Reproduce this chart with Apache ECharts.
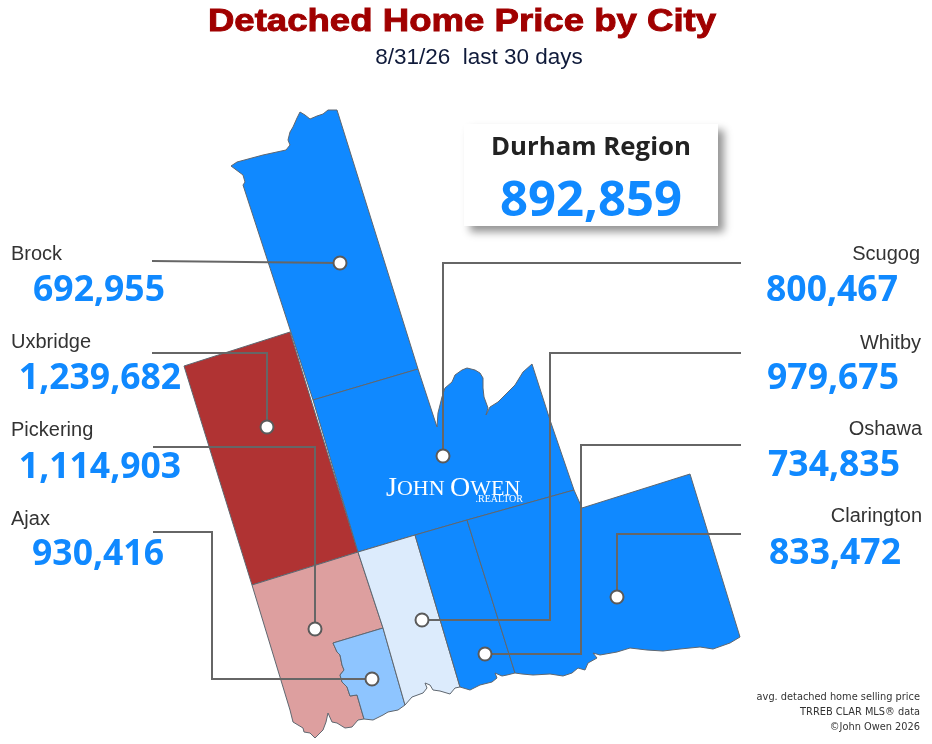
<!DOCTYPE html>
<html>
<head>
<meta charset="utf-8">
<style>html,body{margin:0;padding:0;background:#fff}#main{width:932px;height:744px}</style>
<script src="https://cdn.jsdelivr.net/npm/echarts@6/dist/echarts.min.js"></script>
</head>
<body>
<div id="main"></div>
<script>
// 数据
const cities = ["Brock", "Uxbridge", "Pickering", "Ajax", "Scugog", "Whitby", "Oshawa", "Clarington"];
const prices = [692955, 1239682, 1114903, 930416, 800467, 979675, 734835, 833472];
const regionName = "Durham Region";
const regionPrice = 892859;
const footnotes = ["avg. detached home selling price", "TRREB CLAR MLS\u00ae data", "\u00a9John Owen 2026"];

// 地图边界（图片像素坐标）
const ajaxWest = [[333,643],[337,652],[340,655],[342,665],[344,670],[340,675],[342,682],[347,687],[350,696],[357,695],[364,719]];
const brockShape = [[337,110],[328,110],[323,114],[317,116],[310,119],[305,115],[300,112],[297,118],[293,127],[290,132],[288,140],[290,145],[286,150],[263,155],[237,162],[231,166],[235,169],[243,175],[245,182],[243,185],[313,400],[418,369]];
const uxbridgeShape = [[290,332],[184,366],[252,585],[358,552]];
const scugogShape = [[313,400],[418,369],[437,427],[438,413],[442,397],[445,388],[452,382],[455,375],[462,370],[467,368],[475,370],[480,373],[483,378],[483,388],[484,397],[488,408],[486,415],[490,407],[498,402],[507,393],[515,385],[523,372],[532,364],[550,420],[574,490],[467,520],[415,535],[358,552]];
const pickeringShape = [[252,585],[358,552],[383,628]].concat(ajaxWest, [[358,720],[352,727],[345,728],[337,723],[332,722],[328,713],[326,722],[323,730],[315,738],[310,733],[304,732],[303,728],[293,722],[290,710]]);
const ajaxShape = [[383,628]].concat(ajaxWest, [[373,720],[383,715],[388,712],[398,710],[405,705]]);
const whitbyShape = [[358,552],[415,535],[460,687],[455,688],[450,694],[440,691],[433,690],[430,685],[425,683],[427,688],[423,693],[412,697],[405,705],[383,628]];
const oshawaShape = [[415,535],[467,520],[515,673],[507,675],[502,676],[495,673],[497,678],[492,682],[480,685],[470,690],[460,687]];
const claringtonShape = [[467,520],[574,490],[582,508],[690,474],[740,637],[730,643],[713,649],[700,647],[680,649],[663,651],[647,650],[630,648],[617,652],[600,655],[593,653],[597,658],[588,663],[585,670],[578,668],[572,673],[563,676],[550,674],[533,675],[522,674],[515,673]];
const shapes = [brockShape, uxbridgeShape, pickeringShape, ajaxShape, scugogShape, whitbyShape, oshawaShape, claringtonShape];

// 引线（同样是图片像素坐标），最后一个点是白色圆点
const leaders = [
  [[152,261],[340,263]],
  [[152,353],[267,353],[267,427]],
  [[153,447],[315,447],[315,629]],
  [[153,532],[212,532],[212,679],[372,679]],
  [[741,263],[443,263],[443,456]],
  [[741,353],[550,353],[550,620],[422,620]],
  [[741,445],[581,445],[581,654],[485,654]],
  [[741,534],[617,534],[617,597]]
];

// 文字位置: 名称 x, 名称 y, 价格中心 x, 价格 y
const labelPos = [
  [11,254,99,291],[11,342,100,379],[11,430,100,468],[11,519,98,555],
  [920,254,832,291],[921,343,833,379],[922,429,834,466],[922,516,835,554]
];

const geoJson = {
  type: "FeatureCollection",
  features: cities.map((name, i) => ({
    type: "Feature",
    properties: { name: name },
    geometry: { type: "Polygon", coordinates: [shapes[i].concat([shapes[i][0]])] }
  }))
};
echarts.registerMap("durham", geoJson);

const fmt = v => v.toLocaleString("en-US");
const blue = "#1089ff";
const numFont = '"Open Sans", "Noto Sans", sans-serif';
const textFont = '"Liberation Sans", Arial, sans-serif';

const texts = [];
cities.forEach((name, i) => {
  const p = labelPos[i];
  texts.push({
    type: "text", x: p[0], y: p[1],
    style: { text: name, fill: "#333", font: "20px " + textFont, align: i < 4 ? "left" : "right", verticalAlign: "middle" }
  });
  texts.push({
    type: "text", x: p[2], y: p[3],
    style: { text: fmt(prices[i]), fill: blue, font: "bold 35.5px " + numFont, align: "center", verticalAlign: "middle" }
  });
});
footnotes.forEach((t, i) => {
  texts.push({
    type: "text", x: 920, y: 697 + i * 15,
    style: { text: t, fill: "#333", font: "9.8px 'DejaVu Sans', sans-serif", align: "right", verticalAlign: "middle" }
  });
});

const myChart = echarts.init(document.getElementById("main"));
myChart.setOption({
  animation: false,
  backgroundColor: "#fff",
  visualMap: {
    show: false,
    type: "piecewise",
    seriesIndex: 0,
    pieces: [
      { lt: 900000, color: blue },
      { gte: 900000, lt: 950000, color: "#8ec5ff" },
      { gte: 950000, lt: 1000000, color: "#dcebfc" },
      { gte: 1000000, lt: 1200000, color: "#dd9f9f" },
      { gte: 1200000, color: "#b03333" }
    ]
  },
  geo: {
    map: "durham",
    silent: true,
    left: 0, top: 0, width: 932, height: 744,
    aspectScale: 1,
    projection: { project: p => p, unproject: p => p },
    boundingCoords: [[0, 0], [932, 744]],
    itemStyle: { areaColor: "#fff", borderColor: "#5f6770", borderWidth: 1 },
    label: { show: false }
  },
  series: [
    {
      type: "map",
      geoIndex: 0,
      silent: true,
      data: cities.map((name, i) => ({ name: name, value: prices[i] }))
    },
    {
      type: "lines",
      coordinateSystem: "geo",
      polyline: true,
      silent: true,
      lineStyle: { color: "#666", width: 2, opacity: 1 },
      data: leaders.map(l => ({ coords: l })),
      z: 5
    },
    {
      type: "scatter",
      coordinateSystem: "geo",
      silent: true,
      symbol: "circle",
      symbolSize: 13,
      itemStyle: { color: "#fff", borderColor: "#5a5a5a", borderWidth: 2, opacity: 1 },
      data: leaders.map(l => l[l.length - 1]),
      z: 6
    }
  ],
  graphic: [
    {
      // 标题横向拉宽，接近原图的粗黑体
      type: "text", x: 462, y: 22, scaleX: 1.18, originX: 0, originY: 0, z: 11,
      style: { text: "Detached Home Price by City", fill: "#a00000", stroke: "#a00000", lineWidth: 0.9,
        font: "bold 31px " + textFont, align: "center", verticalAlign: "middle" }
    },
    {
      type: "text", x: 479, y: 58, z: 11,
      style: { text: "8/31/26  last 30 days", fill: "#0f1a3a", font: "22.5px " + textFont, align: "center", verticalAlign: "middle" }
    },
    {
      type: "rect", shape: { x: 464, y: 124, width: 254, height: 102 }, z: 10,
      style: { fill: "#fff", shadowBlur: 8, shadowColor: "rgba(0,0,0,0.42)", shadowOffsetX: 6, shadowOffsetY: 6 }
    },
    {
      type: "text", x: 591, y: 148, z: 11,
      style: { text: regionName, fill: "#222", font: "bold 25.8px " + numFont, align: "center", verticalAlign: "middle" }
    },
    {
      type: "text", x: 591, y: 202, z: 11,
      style: { text: fmt(regionPrice), fill: blue, font: "bold 49px " + numFont, align: "center", verticalAlign: "middle" }
    },
    {
      type: "text", x: 386, y: 489, z: 11,
      style: {
        text: "{a|J}{b|OHN }{a|O}{b|WEN}",
        rich: {
          a: { fill: "#fff", font: "28px 'Liberation Serif', serif" },
          b: { fill: "#fff", font: "22px 'Liberation Serif', serif" }
        },
        align: "left", verticalAlign: "middle"
      }
    },
    {
      type: "text", x: 523, y: 499, z: 11,
      style: { text: ".REALTOR", fill: "#fff", font: "10px 'Liberation Serif', serif", align: "right", verticalAlign: "middle" }
    }
  ].concat(texts)
});
</script>
</body>
</html>
